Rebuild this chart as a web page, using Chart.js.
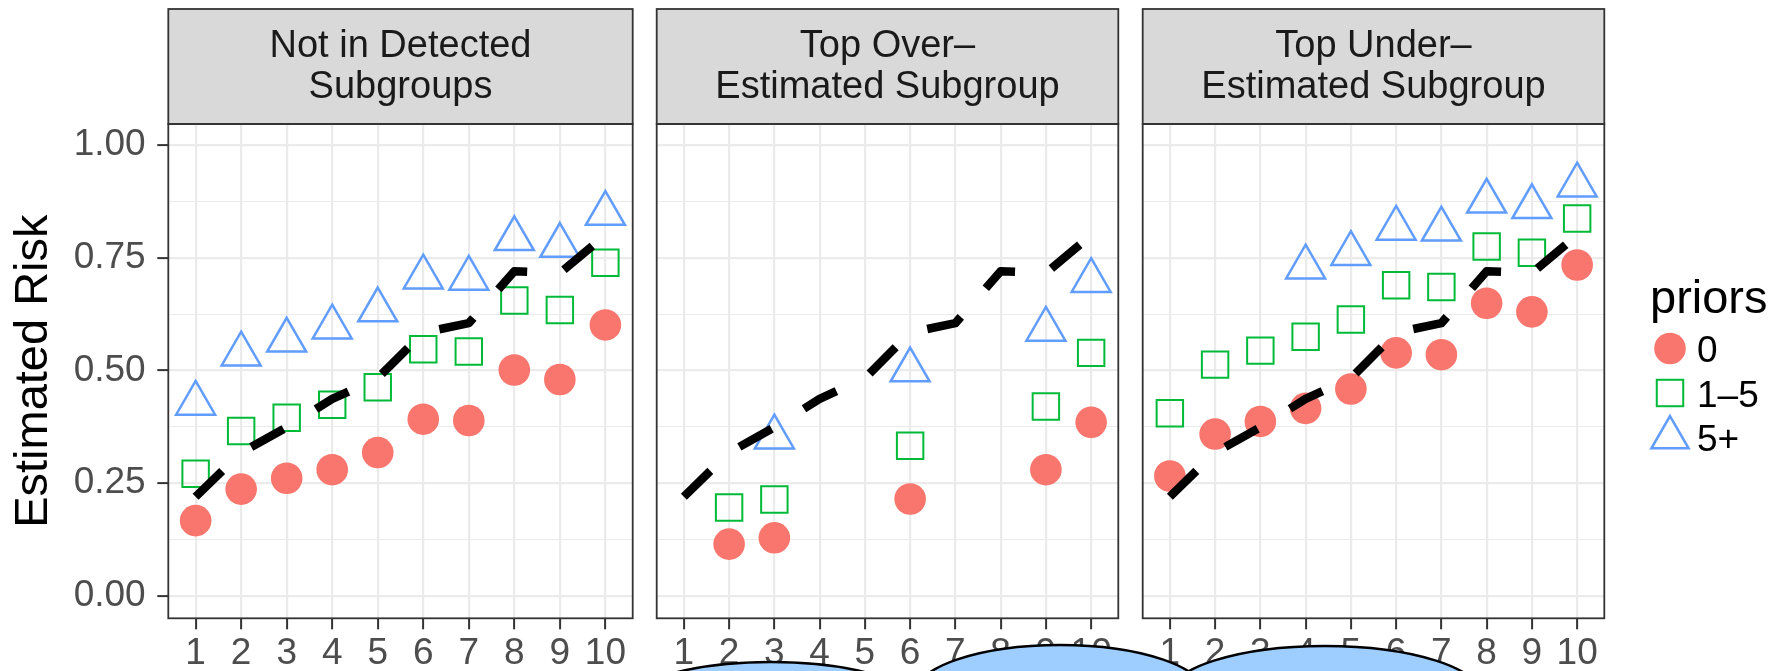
<!DOCTYPE html>
<html>
<head>
<meta charset="utf-8">
<script src="https://cdn.jsdelivr.net/npm/chart.js@4.4.1/dist/chart.umd.min.js"></script>
<style>
html,body{margin:0;padding:0;background:#ffffff;}
#wrap{position:relative;width:1783px;height:671px;overflow:hidden;background:#ffffff;}
#wrap canvas{position:absolute;left:0;top:0;}
</style>
</head>
<body>
<div id="wrap">
<canvas id="c1" width="1783" height="671"></canvas>
<canvas id="c2" width="1783" height="671"></canvas>
<canvas id="c3" width="1783" height="671"></canvas>
</div>
<script>
// ---------- data ----------
const deciles = [1, 2, 3, 4, 5, 6, 7, 8, 9, 10];
const yMajorTicks = [0, 0.25, 0.5, 0.75, 1];
const yMinorTicks = [0.125, 0.375, 0.625, 0.875];
const priorsLabels = ['0', '1–5', '5+'];
const panelTitles = [
  ['Not in Detected', 'Subgroups'],
  ['Top Over–', 'Estimated Subgroup'],
  ['Top Under–', 'Estimated Subgroup']
];
const yAxisTitle = 'Estimated Risk';
const legendTitle = 'priors';

// overall (dashed) estimated risk by decile
const overallRisk = [0.220, 0.318, 0.374, 0.437, 0.483, 0.584, 0.605, 0.720, 0.716, 0.800];

// Panel 1: Not in Detected Subgroups
const notDetected_p0  = [0.167, 0.237, 0.261, 0.280, 0.318, 0.392, 0.389, 0.501, 0.480, 0.601];
const notDetected_p15 = [0.271, 0.366, 0.395, 0.424, 0.463, 0.547, 0.542, 0.655, 0.634, 0.739];
const notDetected_p5  = [0.427, 0.536, 0.567, 0.596, 0.634, 0.707, 0.704, 0.792, 0.777, 0.848];

// Panel 2: Top Over-Estimated Subgroup
const overEst_p0  = [null, 0.115, 0.129, null, null, 0.215, null, null, 0.280, 0.385];
const overEst_p15 = [null, 0.196, 0.214, null, null, 0.333, null, null, 0.420, 0.539];
const overEst_p5  = [null, null, 0.352, null, null, 0.501, null, null, 0.591, 0.699];

// Panel 3: Top Under-Estimated Subgroup
const underEst_p0  = [0.266, 0.359, 0.387, 0.416, 0.459, 0.539, 0.535, 0.649, 0.630, 0.734];
const underEst_p15 = [0.405, 0.513, 0.544, 0.575, 0.613, 0.689, 0.685, 0.775, 0.761, 0.837];
const underEst_p5  = [null, null, null, 0.729, 0.759, 0.815, 0.813, 0.875, 0.863, 0.911];

// ---------- styles ----------
const FONT = "'Liberation Sans', Arial, Helvetica, sans-serif";
const COL_P0 = '#F8766D', COL_P15 = '#00BA38', COL_P5 = '#619CFF';
const R_CIRCLE = 15.8, R_RECT = 18.7, R_TRI = 22.5;
const W = 1783, H = 671;
const STRIP_TOP = 9;
const PLOT_BOTTOM = 618.3;
const panels = [
  {left: 168.3, right: 632.7},
  {left: 656.7, right: 1118.3},
  {left: 1142.7, right: 1604.3}
];

Chart.defaults.font.family = FONT;

function toPts(vals) {
  const out = [];
  vals.forEach((v, i) => { if (v !== null && v !== undefined) out.push({x: deciles[i], y: v}); });
  return out;
}
function isMajor(v) { return Math.abs(v * 4 - Math.round(v * 4)) < 1e-9; }

const stripPlugin = {
  id: 'facetStrip',
  beforeDraw(chart) {
    const {ctx, chartArea: a} = chart;
    ctx.save();
    ctx.fillStyle = '#D9D9D9';
    ctx.fillRect(a.left, STRIP_TOP, a.right - a.left, a.top - STRIP_TOP);
    ctx.restore();
  },
  afterDraw(chart) {
    const {ctx, chartArea: a} = chart;
    ctx.save();
    ctx.strokeStyle = '#333333';
    ctx.lineWidth = 1.8;
    ctx.strokeRect(a.left, STRIP_TOP, a.right - a.left, a.top - STRIP_TOP);
    ctx.strokeRect(a.left, a.top, a.right - a.left, a.bottom - a.top);
    ctx.restore();
  }
};

const legendPlugin = {
  id: 'priorsLegend',
  afterDraw(chart) {
    const ctx = chart.ctx;
    ctx.save();
    ctx.textAlign = 'left';
    ctx.textBaseline = 'alphabetic';
    ctx.fillStyle = '#000000';
    ctx.font = '47px ' + FONT;
    ctx.fillText(legendTitle, 1650, 313);
    const kx = 1670;
    const ky = [348.5, 393, 437.5];
    // circle
    ctx.beginPath();
    ctx.arc(kx, ky[0], R_CIRCLE, 0, Math.PI * 2);
    ctx.fillStyle = COL_P0;
    ctx.fill();
    // square
    const hs = R_RECT * Math.SQRT1_2;
    ctx.lineWidth = 2;
    ctx.strokeStyle = COL_P15;
    ctx.strokeRect(kx - hs, ky[1] - hs, 2 * hs, 2 * hs);
    // triangle
    const r = 21.5;
    ctx.beginPath();
    ctx.moveTo(kx, ky[2] - r);
    ctx.lineTo(kx + r * Math.sin(2 * Math.PI / 3), ky[2] + r / 2);
    ctx.lineTo(kx - r * Math.sin(2 * Math.PI / 3), ky[2] + r / 2);
    ctx.closePath();
    ctx.lineWidth = 2.5;
    ctx.strokeStyle = COL_P5;
    ctx.stroke();
    ctx.fillStyle = '#000000';
    ctx.font = '37px ' + FONT;
    priorsLabels.forEach((t, i) => ctx.fillText(t, 1697, ky[i] + 13.5));
    ctx.restore();
  }
};

const bubblePlugin = {
  id: 'bubbles',
  afterDraw(chart) {
    const ctx = chart.ctx;
    const shapes = [
      {cx: 771, top: 662, rx: 155, ry: 50},
      {cx: 1060, top: 645, rx: 146, ry: 50},
      {cx: 1325, top: 646, rx: 157, ry: 50}
    ];
    ctx.save();
    shapes.forEach(s => {
      ctx.beginPath();
      ctx.ellipse(s.cx, s.top + s.ry, s.rx, s.ry, 0, 0, Math.PI * 2);
      ctx.fillStyle = '#9ECEFF';
      ctx.fill();
      ctx.lineWidth = 2.5;
      ctx.strokeStyle = '#000000';
      ctx.stroke();
    });
    ctx.restore();
  }
};

function makeChart(id, idx, s0, s15, s5, extraPlugins) {
  const p = panels[idx];
  const first = idx === 0;
  return new Chart(document.getElementById(id), {
    type: 'scatter',
    data: {
      datasets: [
        {
          label: 'overall',
          data: toPts(overallRisk),
          showLine: true,
          borderColor: '#000000',
          borderWidth: 8.5,
          borderDash: [37, 38],
          borderCapStyle: 'butt',
          borderJoinStyle: 'round',
          pointRadius: 0,
          tension: 0,
          fill: false
        },
        {
          label: '5+',
          data: toPts(s5),
          pointStyle: 'triangle',
          pointRadius: R_TRI,
          backgroundColor: 'rgba(0,0,0,0)',
          borderColor: COL_P5,
          borderWidth: 2.5
        },
        {
          label: '1–5',
          data: toPts(s15),
          pointStyle: 'rect',
          pointRadius: R_RECT,
          backgroundColor: 'rgba(0,0,0,0)',
          borderColor: COL_P15,
          borderWidth: 2
        },
        {
          label: '0',
          data: toPts(s0),
          pointStyle: 'circle',
          pointRadius: R_CIRCLE,
          backgroundColor: COL_P0,
          borderColor: COL_P0,
          borderWidth: 0
        }
      ]
    },
    options: {
      responsive: false,
      animation: false,
      events: [],
      devicePixelRatio: 1,
      layout: {padding: {left: first ? 0 : p.left, right: W - p.right, top: STRIP_TOP, bottom: 0}},
      plugins: {
        legend: {display: false},
        tooltip: {enabled: false},
        title: {
          display: true,
          text: panelTitles[idx],
          fullSize: false,
          color: '#1A1A1A',
          font: {family: FONT, size: 38, weight: 'normal', lineHeight: 1.07},
          padding: {top: 17.5, bottom: 16.2}
        }
      },
      scales: {
        x: {
          type: 'linear',
          min: 0.4,
          max: 10.6,
          afterBuildTicks: s => { s.ticks = deciles.map(v => ({value: v})); },
          afterFit: s => { s.height = H - PLOT_BOTTOM; },
          border: {display: false},
          grid: {color: '#EBEBEB', lineWidth: 2.2, tickColor: '#333333', tickWidth: 2, tickLength: 11, drawTicks: true},
          ticks: {
            color: '#4D4D4D',
            font: {family: FONT, size: 37},
            padding: 2,
            autoSkip: false,
            maxRotation: 0,
            callback: v => String(v)
          }
        },
        y: {
          type: 'linear',
          min: -0.0495,
          max: 1.0465,
          afterBuildTicks: s => {
            s.ticks = yMajorTicks.concat(yMinorTicks).sort((a, b) => a - b).map(v => ({value: v}));
          },
          afterFit: s => { s.width = first ? p.left : 0; },
          border: {display: false},
          grid: {
            color: '#EBEBEB',
            lineWidth: c => (c.tick && isMajor(c.tick.value)) ? 2.2 : 1.1,
            tickColor: c => (c.tick && isMajor(c.tick.value)) ? '#333333' : 'rgba(0,0,0,0)',
            tickWidth: 2,
            tickLength: 11,
            drawTicks: first
          },
          ticks: {
            display: first,
            color: '#4D4D4D',
            font: {family: FONT, size: 37},
            padding: 11.6,
            autoSkip: false,
            callback: v => isMajor(v) ? v.toFixed(2) : ''
          },
          title: {
            display: first,
            text: yAxisTitle,
            color: '#000000',
            font: {family: FONT, size: 47, weight: 'normal'},
            padding: {top: 6.3, bottom: 0}
          }
        }
      }
    },
    plugins: [stripPlugin].concat(extraPlugins || [])
  });
}

makeChart('c1', 0, notDetected_p0, notDetected_p15, notDetected_p5);
makeChart('c2', 1, overEst_p0, overEst_p15, overEst_p5);
makeChart('c3', 2, underEst_p0, underEst_p15, underEst_p5, [legendPlugin, bubblePlugin]);
</script>
</body>
</html>
